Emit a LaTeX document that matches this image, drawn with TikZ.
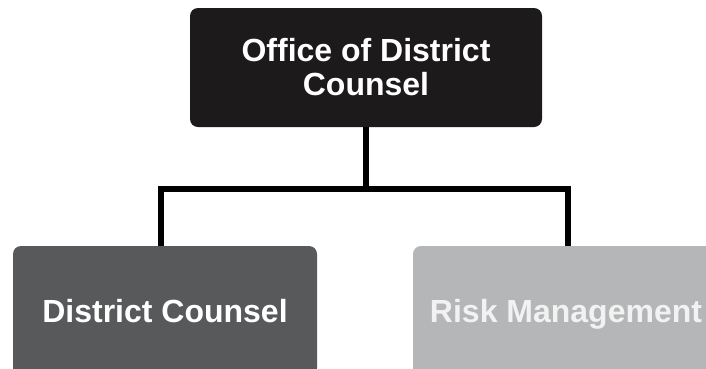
\documentclass[tikz,border=0pt]{standalone}
\usepackage{fontspec}
\setmainfont{Liberation Sans}
\definecolor{topc}{HTML}{1C1A1B}
\definecolor{leftc}{HTML}{58595B}
\definecolor{rightc}{HTML}{B5B6B8}
\begin{document}
\begin{tikzpicture}[x=1pt,y=1pt,
  box/.style={rounded corners=8pt, text=white, align=center, inner sep=0pt,
    font=\bfseries\fontsize{32}{34}\selectfont},
  onebox/.style={box, text height=29pt, text depth=7pt},
  link/.style={line width=6pt, line join=miter, draw=black}]
\useasboundingbox (0,0) rectangle (706,-368);
\fill[white] (0,0) rectangle (706,-368);
\begin{scope}
\clip (0,0) rectangle (706,-368);
\node[box, fill=topc, minimum width=352pt, minimum height=119pt] (top) at (366,-67.5) {Office of District\\Counsel};
\node[onebox, fill=leftc, minimum width=304pt, minimum height=130pt] (left) at (165,-311) {District Counsel};
\node[onebox, fill=rightc, minimum width=306pt, minimum height=130pt, text=white!95!black] (right) at (566,-311) {Risk Management};
\end{scope}
\coordinate (j) at (366,-189);
\draw[link] (top.south) -- (j);
\draw[link] ([xshift=-4pt]left.north) |- (j) -| ([xshift=2pt]right.north);
\end{tikzpicture}
\end{document}
